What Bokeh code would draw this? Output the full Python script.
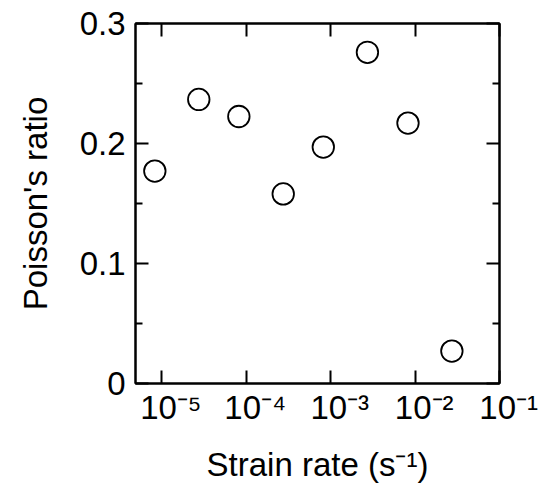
from bokeh.plotting import figure
from bokeh.models import (Range1d, FixedTicker, LinearAxis,
                          CustomJSTickFormatter)
from bokeh.embed import file_html
from bokeh.resources import INLINE

# Data
strain_rate = [8.3e-6, 2.75e-5, 8.2e-5, 2.75e-4, 8.2e-4, 2.73e-3, 8.25e-3, 2.73e-2]
poisson = [0.177, 0.2367, 0.2225, 0.158, 0.197, 0.276, 0.217, 0.027]

x_ticks = [1e-5, 1e-4, 1e-3, 1e-2, 1e-1]
y_ticks = [0, 0.1, 0.2, 0.3]
y_minor = [0.05, 0.15, 0.25]
y_tick_labels = {0: "0", 0.1: "0.1", 0.2: "0.2", 0.3: "0.3"}
x_title = "Strain rate (s\u207b\u00b9)"
y_title = "Poisson's ratio"

FONT = "Liberation Sans"

p = figure(width=540, height=487, x_axis_type="log",
           x_range=Range1d(4.9e-6, 0.1), y_range=Range1d(0, 0.3),
           output_backend="svg", toolbar_location=None,
           min_border_left=135, min_border_right=41,
           min_border_top=23, min_border_bottom=104)

p.grid.visible = False
p.background_fill_color = "white"
p.border_fill_color = "white"
p.outline_line_color = "black"
p.outline_line_width = 2

top_ax = LinearAxis(formatter=CustomJSTickFormatter(code="return '';"))
right_ax = LinearAxis(formatter=CustomJSTickFormatter(code="return '';"))
p.add_layout(top_ax, "above")
p.add_layout(right_ax, "right")
bottom_ax = p.below[0]
left_ax = p.left[0]

# "10" followed by a superscript exponent (padded so that "10" sits on the tick)
bottom_ax.formatter = CustomJSTickFormatter(code="""
const sup = {'-': '\\u207b', '0': '\\u2070', '1': '\\u00b9', '2': '\\u00b2',
             '3': '\\u00b3', '4': '\\u2074', '5': '\\u2075', '6': '\\u2076',
             '7': '\\u2077', '8': '\\u2078', '9': '\\u2079'};
const e = Math.round(Math.log10(tick));
const s = String(e).split('').map(c => sup[c]).join('');
return '\\u00a0\\u00a010' + s;
""")

for ax in [bottom_ax, top_ax]:
    ax.ticker = FixedTicker(ticks=x_ticks, minor_ticks=[])
for ax in [left_ax, right_ax]:
    ax.ticker = FixedTicker(ticks=y_ticks, minor_ticks=y_minor)

for ax in [bottom_ax, left_ax, top_ax, right_ax]:
    ax.axis_line_width = 2
    ax.axis_line_color = "black"
    ax.major_tick_in = 13
    ax.major_tick_out = 0
    ax.minor_tick_in = 7
    ax.minor_tick_out = 0
    ax.major_tick_line_width = 2
    ax.minor_tick_line_width = 2
    ax.major_tick_line_color = "black"
    ax.minor_tick_line_color = "black"
    ax.major_label_text_font = FONT
    ax.major_label_text_font_size = "1px"
    ax.major_label_standoff = 0
    ax.major_label_text_color = "black"
    ax.axis_label_text_font = FONT
    ax.axis_label_text_font_style = "normal"
    ax.axis_label_text_font_size = "33px"
    ax.axis_label_text_color = "black"

left_ax.major_label_text_font_size = "33px"
left_ax.major_label_standoff = 10
left_ax.major_label_overrides = y_tick_labels
left_ax.axis_label = y_title
left_ax.axis_label_standoff = 23

bottom_ax.major_label_text_font_size = "33px"
bottom_ax.major_label_standoff = 5
bottom_ax.axis_label = x_title
bottom_ax.axis_label_standoff = 17

p.scatter(strain_rate, poisson, marker="circle", size=21.5,
          fill_color="white", line_color="black", line_width=1.8)

open("out.html", "w").write(file_html(p, INLINE))
